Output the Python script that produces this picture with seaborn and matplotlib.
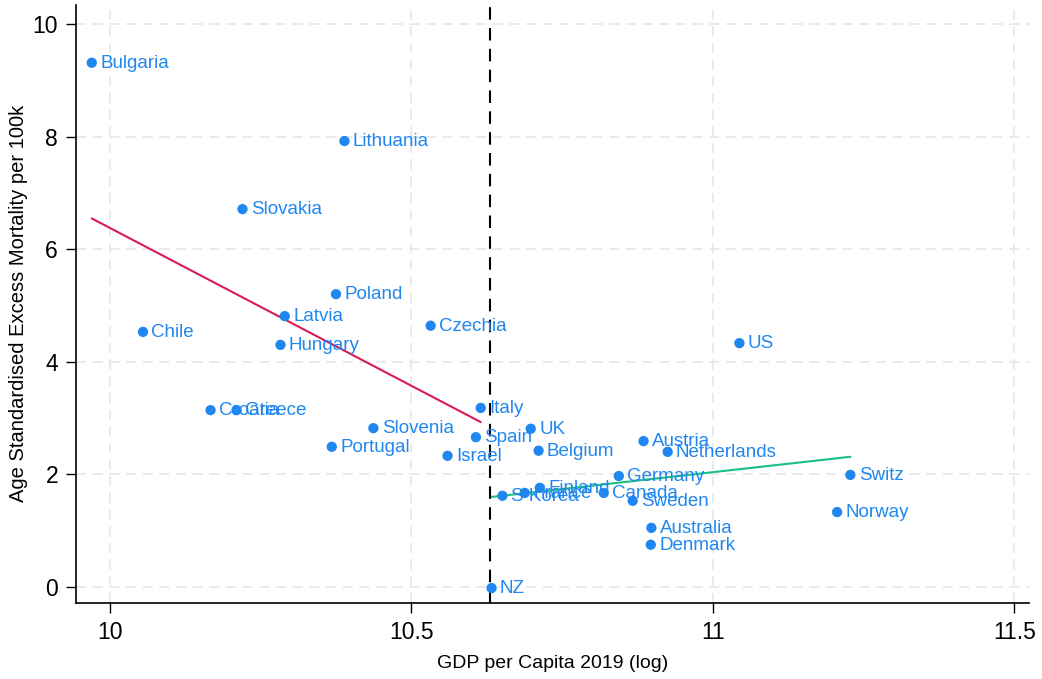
import numpy as np
import pandas as pd
import matplotlib
matplotlib.use("Agg")
import matplotlib.pyplot as plt
import seaborn as sns

# data
countries = ["Bulgaria", "Lithuania", "Slovakia", "Poland", "Chile", "Latvia", "Hungary",
             "Czechia", "US", "Croatia", "Greece", "Italy", "Slovenia", "UK", "Spain",
             "Portugal", "Belgium", "Austria", "Netherlands", "Israel", "Germany", "Switz",
             "Finland", "France", "S Korea", "Canada", "Sweden", "Norway", "Australia",
             "Denmark", "NZ"]
log_gdp = [9.970, 10.389, 10.220, 10.375, 10.055, 10.290, 10.283,
           10.532, 11.044, 10.167, 10.210, 10.615, 10.437, 10.698, 10.607,
           10.368, 10.711, 10.885, 10.925, 10.560, 10.844, 11.228,
           10.713, 10.688, 10.651, 10.819, 10.867, 11.206, 10.898,
           10.897, 10.633]
excess_mort = [9.31, 7.92, 6.71, 5.20, 4.53, 4.81, 4.30,
               4.64, 4.33, 3.14, 3.14, 3.18, 2.82, 2.81, 2.66,
               2.49, 2.42, 2.59, 2.40, 2.33, 1.97, 1.99,
               1.76, 1.67, 1.62, 1.67, 1.53, 1.33, 1.05,
               0.75, -0.02]
cutoff = 10.63

BLUE = "#1f87ef"
RED = "#d81b55"
GREEN = "#17c17f"

df = pd.DataFrame({"country": countries, "gdp": log_gdp, "mort": excess_mort})
low = df[df["gdp"] < cutoff]
high = df[df["gdp"] >= cutoff]

sns.set_style("white", {"text.color": "black", "axes.labelcolor": "black",
                        "xtick.color": "black", "ytick.color": "black"})
plt.rcParams["font.family"] = ["Liberation Sans", "DejaVu Sans"]

fig = plt.figure(figsize=(10.42, 6.79), dpi=100)
ax = fig.add_axes([0.073, 0.112, 0.915, 0.881])

ax.grid(True, color="#e6e6e6", linestyle=(0, (6, 4)), linewidth=1.2)
ax.set_axisbelow(True)

sns.regplot(data=low, x="gdp", y="mort", scatter=False, ci=None, ax=ax,
            line_kws={"color": RED, "linewidth": 1.5})
sns.regplot(data=high, x="gdp", y="mort", scatter=False, ci=None, ax=ax,
            line_kws={"color": GREEN, "linewidth": 1.5})

ax.axvline(cutoff, color="black", linestyle=(0, (6, 4)), linewidth=1.5, zorder=3)

sns.scatterplot(data=df, x="gdp", y="mort", color=BLUE, s=55, edgecolor="none",
                ax=ax, zorder=4)
for c, x, y in zip(countries, log_gdp, excess_mort):
    ax.annotate(c, (x, y), xytext=(6, -0.5), textcoords="offset points",
                va="center", ha="left", color=BLUE, fontsize=13.5, zorder=5)

ax.set_xlim(9.944, 11.525)
ax.set_ylim(-0.284, 10.34)
ax.set_xticks([10, 10.5, 11, 11.5])
ax.set_xticklabels(["10", "10.5", "11", "11.5"])
ax.set_yticks([0, 2, 4, 6, 8, 10])
ax.tick_params(axis="both", labelsize=16.5, length=7, width=1, direction="out",
               bottom=True, left=True, pad=6, colors="black")
ax.set_xlabel("GDP per Capita 2019 (log)", fontsize=14, labelpad=8)
ax.set_ylabel("Age Standardised Excess Mortality per 100k", fontsize=14.5, labelpad=3)

for s in ["top", "right"]:
    ax.spines[s].set_visible(False)
for s in ["left", "bottom"]:
    ax.spines[s].set_color("black")
    ax.spines[s].set_linewidth(1.2)

fig.savefig("out.png", dpi=100)
